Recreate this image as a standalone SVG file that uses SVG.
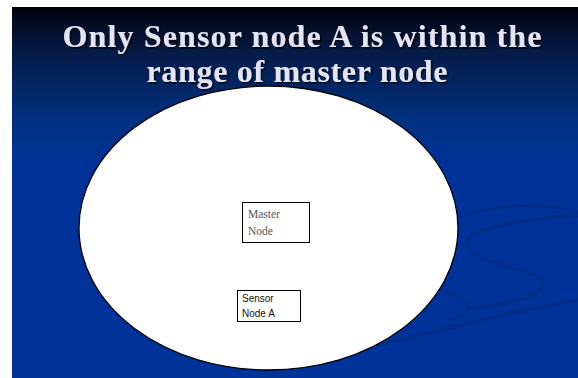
<svg xmlns="http://www.w3.org/2000/svg" width="578" height="378" viewBox="0 0 578 378">
<defs>
<linearGradient id="bg" x1="0" y1="0" x2="0" y2="1">
<stop offset="0" stop-color="#03030f"/>
<stop offset="0.12" stop-color="#061a45"/>
<stop offset="0.3" stop-color="#00307f"/>
<stop offset="0.42" stop-color="#003399"/>
<stop offset="1" stop-color="#003399"/>
</linearGradient>
<filter id="sh" x="-5%" y="-20%" width="110%" height="140%">
<feDropShadow dx="1.5" dy="1.5" stdDeviation="0.6" flood-color="#000" flood-opacity="0.8"/>
</filter>
<style>
.title{font-family:"Liberation Serif",serif;font-weight:bold;font-size:32px;fill:#e4e4f2;text-anchor:middle}
.box{fill:#fff;stroke:#000;stroke-width:1}
.serif{font-family:"Liberation Serif",serif;font-size:11.5px;fill:#555}
.sans{font-family:"Liberation Sans",sans-serif;font-size:10px;fill:#111}
.swoosh{fill:none;stroke:#002e8a;stroke-linecap:round}
</style>
</defs>
<rect x="0" y="0" width="578" height="378" fill="#fff"/>
<rect x="12" y="7" width="566" height="371" fill="url(#bg)"/>
<g id="swooshes">
<path class="swoosh" stroke-width="3" d="M450 220 C 500 200, 560 205, 578 212"/>
<path class="swoosh" stroke-width="4" d="M578 215 C 520 220, 450 230, 470 250 C 490 270, 560 270, 540 290 C 530 300, 500 305, 470 308"/>
<path class="swoosh" stroke-width="4" d="M360 350 C 440 330, 520 310, 578 300"/>
<path class="swoosh" stroke-width="3" d="M440 290 C 470 300, 480 310, 450 320"/>
</g>
<g id="title">
<text class="title" x="302" y="47" textLength="479" lengthAdjust="spacing" filter="url(#sh)">Only Sensor node A is within the</text>
<text class="title" x="297" y="82" textLength="301" lengthAdjust="spacing" filter="url(#sh)">range of master node</text>
</g>
<g id="range">
<ellipse cx="268.5" cy="228" rx="189.5" ry="142" fill="#fff" stroke="#000" stroke-width="1.3"/>
</g>
<g id="master-node">
<rect class="box" x="242.5" y="202.5" width="67" height="40"/>
<text class="serif" x="248" y="218">Master</text>
<text class="serif" x="248" y="235">Node</text>
</g>
<g id="sensor-node-a">
<rect class="box" x="237.5" y="290.5" width="63" height="31"/>
<text class="sans" x="242" y="302">Sensor</text>
<text class="sans" x="242" y="317">Node A</text>
</g>
<g id="connectors"/>
</svg>
